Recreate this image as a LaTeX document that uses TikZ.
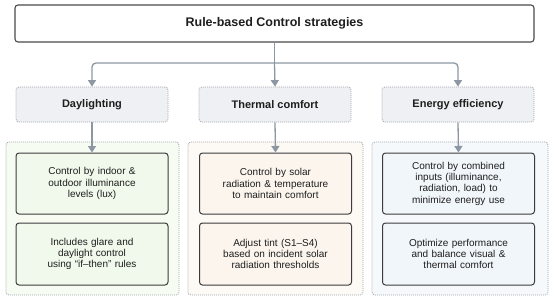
\documentclass[tikz,border=0pt]{standalone}
\usepackage{fontspec}
\setmainfont{Liberation Sans}
\usetikzlibrary{arrows.meta}
\definecolor{conncol}{HTML}{8C97A3}
\definecolor{titleborder}{HTML}{4A4A4A}
\definecolor{headfill}{HTML}{EEF0F3}
\definecolor{dotcol}{HTML}{A0A5AB}
\definecolor{greenbg}{HTML}{F6FCF2}
\definecolor{greenin}{HTML}{F0F9EB}
\definecolor{tanbg}{HTML}{FDF9F4}
\definecolor{tanin}{HTML}{FBF5EE}
\definecolor{bluebg}{HTML}{F6F9FC}
\definecolor{bluein}{HTML}{F1F6FB}
\definecolor{innerborder}{HTML}{3C3C3C}
\definecolor{txt}{HTML}{1E1E1E}
\begin{document}
\begin{tikzpicture}[x=1pt,y=-1pt,
  titlebox/.style={draw=titleborder,line width=1.1pt,fill=white,rounded corners=3pt,
    minimum width=519pt,minimum height=37pt,inner sep=0pt,
    font=\fontsize{12.5}{14}\selectfont\bfseries,text=txt},
  headbox/.style={draw=dotcol,line width=0.8pt,dash pattern=on 1pt off 1pt,fill=headfill,
    rounded corners=3pt,minimum width=152pt,minimum height=35pt,inner sep=0pt,
    font=\fontsize{11}{13}\selectfont\bfseries,text=txt},
  groupbox/.style={draw=dotcol,line width=0.8pt,dash pattern=on 1pt off 1pt,
    rounded corners=3pt,minimum height=153pt,inner sep=0pt},
  innerbox/.style={draw=innerborder,line width=1pt,rounded corners=3pt,
    minimum width=152pt,inner sep=0pt,align=center,text width=150pt,
    font=\fontsize{10}{11.3}\selectfont,text=txt},
  conn/.style={draw=conncol,line width=1.3pt},
  arr/.style={conn,-{Triangle[width=8pt,length=6.5pt]}}
]
\useasboundingbox (0,0) rectangle (550,301);

\node[titlebox] (title) at (274.5,23.5) {Rule-based Control strategies};

\node[headbox] (h1) at (92,104.5) {Daylighting};
\node[headbox] (h2) at (275,104.5) {Thermal comfort};
\node[headbox] (h3) at (458,104.5) {Energy efficiency};

\node[groupbox,fill=greenbg,minimum width=173pt] (g1) at (92.5,218.5) {};
\node[groupbox,fill=tanbg,minimum width=175pt] (g2) at (275.5,218.5) {};
\node[groupbox,fill=bluebg,minimum width=176pt] (g3) at (460,218.5) {};

\node[innerbox,fill=greenin,minimum height=61pt] (a1) at (92,183.5) {Control by indoor \&\\outdoor illuminance\\levels (lux)};
\node[innerbox,fill=greenin,minimum height=62pt] (a2) at (92,254) {Includes glare and\\daylight control\\using “if–then” rules};

\node[innerbox,fill=tanin,minimum height=61pt] (b1) at (275.5,183.5) {Control by solar\\radiation \& temperature\\to maintain comfort};
\node[innerbox,fill=tanin,minimum height=62pt] (b2) at (275.5,254) {Adjust tint (S1–S4)\\based on incident solar\\radiation thresholds};

\node[innerbox,fill=bluein,minimum height=61pt] (c1) at (458.5,183.5) {Control by combined\\inputs (illuminance,\\radiation, load) to\\minimize energy use};
\node[innerbox,fill=bluein,minimum height=62pt] (c2) at (458.5,254) {Optimize performance\\and balance visual \&\\thermal comfort};

\coordinate (j) at (274.5,63);
\draw[conn] (title.south) -- (j);
\draw[arr,rounded corners=4pt] (j) -| (h1.north);
\draw[arr] (j) -- (h2.north);
\draw[arr,rounded corners=4pt] (j) -| (h3.north);

\draw[arr] (h1.south) -- (a1.north);
\draw[arr] (h2.south) -- (b1.north);
\draw[arr] (h3.south) -- (c1.north);
\end{tikzpicture}
\end{document}
